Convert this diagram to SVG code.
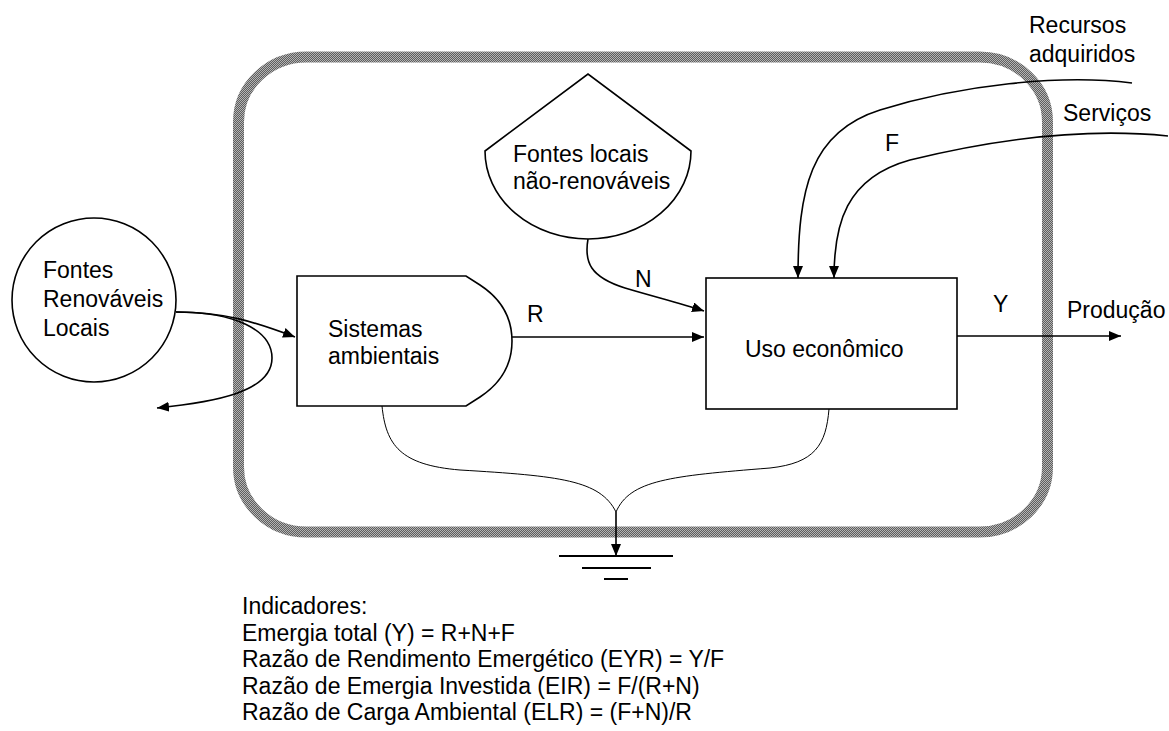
<svg xmlns="http://www.w3.org/2000/svg" width="1169" height="731" viewBox="0 0 1169 731">
  <defs>
    <!-- dithered grey fill for the system boundary -->
    <pattern id="dither" width="2" height="2" patternUnits="userSpaceOnUse">
      <rect width="2" height="2" fill="#5e5e5e"/>
      <rect x="0" y="0" width="1" height="1" fill="#b4b4b4"/>
      <rect x="1" y="1" width="1" height="1" fill="#b4b4b4"/>
    </pattern>
    <marker id="arrow" viewBox="0 0 12 10" refX="12" refY="5" markerWidth="12" markerHeight="10" markerUnits="userSpaceOnUse" orient="auto">
      <path d="M0,0 L12,5 L0,10 Z" fill="#000"/>
    </marker>
  </defs>
  <style>
    text { font-family: "Liberation Sans", Arial, sans-serif; font-size: 23px; fill: #000; }
    .shape { fill: #fff; stroke: #000; stroke-width: 1.6; }
    .flow { fill: none; stroke: #000; stroke-width: 1.6; }
    .thin { fill: none; stroke: #000; stroke-width: 1; }
    .ground { stroke: #000; stroke-width: 2; }
  </style>

  <rect width="1169" height="731" fill="#fff"/>

  <!-- system boundary -->
  <g id="boundary">
    <rect x="238.5" y="57" width="809" height="475" rx="68" ry="65" fill="none" stroke="url(#dither)" stroke-width="11"/>
  </g>

  <!-- renewable sources (circle) -->
  <g id="renewable-sources">
    <circle cx="94" cy="300" r="82" class="shape"/>
    <text x="43" y="278">Fontes</text>
    <text x="43" y="307">Renováveis</text>
    <text x="43" y="336">Locais</text>
  </g>

  <!-- environmental systems (tank/producer shape) -->
  <g id="environmental-systems">
    <path d="M297,276 H466 L480,285 Q512,306 512,341 Q512,376 480,397 L466,406 H297 Z" class="shape" stroke-width="2.6"/>
    <text x="328" y="337">Sistemas</text>
    <text x="328" y="364">ambientais</text>
  </g>

  <!-- non-renewable local sources -->
  <g id="nonrenewable-sources">
    <path d="M485,151 L588,74 L691,151 A103,88 0 0 1 485,151 Z" class="shape"/>
    <text x="513" y="162">Fontes locais</text>
    <text x="513" y="189">não-renováveis</text>
  </g>

  <!-- economic use -->
  <g id="economic-use">
    <rect x="706" y="278" width="251" height="131" class="shape"/>
    <text x="745" y="357">Uso econômico</text>
  </g>

  <!-- heat sink -->
  <g id="heat-sink">
    <line x1="559" y1="556" x2="673" y2="556" class="ground"/>
    <line x1="582" y1="568" x2="651" y2="568" class="ground"/>
    <line x1="604" y1="579" x2="628" y2="579" class="ground"/>
  </g>

  <!-- flows -->
  <g id="connectors">
    <path d="M176,312 C225,312 255,322 295,337" class="flow" marker-end="url(#arrow)"/>
    <path d="M176,312 C235,312 272,330 272,358 C272,392 215,402 157,408" class="flow" marker-end="url(#arrow)"/>
    <path d="M512,337 H704" class="flow" marker-end="url(#arrow)"/>
    <path d="M588,239 C584,262 590,277 625,288 C655,297 680,303 704,311" class="flow" marker-end="url(#arrow)"/>
    <path d="M1132,83 C1060,74 960,85 880,110 C810,132 798,190 798,278" class="flow" marker-end="url(#arrow)"/>
    <path d="M1168,136 C1090,128 1000,138 910,160 C845,178 834,225 834,278" class="flow" marker-end="url(#arrow)"/>
    <path d="M957,336 H1121" class="flow" marker-end="url(#arrow)"/>
    <path d="M382,406 C386,445 400,465 460,470 C560,476 600,480 616,512" class="thin"/>
    <path d="M829,409 C826,445 815,463 770,468 C670,476 630,480 616,512" class="thin"/>
    <path d="M616,512 V556" class="flow" marker-end="url(#arrow)"/>
  </g>

  <!-- flow labels -->
  <g id="labels">
    <text x="527" y="322">R</text>
    <text x="635" y="287">N</text>
    <text x="885" y="151">F</text>
    <text x="993" y="312">Y</text>
    <text x="1067" y="318">Produção</text>
    <text x="1029" y="33">Recursos</text>
    <text x="1029" y="62">adquiridos</text>
    <text x="1063" y="121">Serviços</text>
  </g>

  <!-- indicators -->
  <g id="indicators">
    <text x="242" y="614">Indicadores:</text>
    <text x="242" y="640.5">Emergia total (Y) = R+N+F</text>
    <text x="242" y="667">Razão de Rendimento Emergético (EYR) = Y/F</text>
    <text x="242" y="693.5">Razão de Emergia Investida (EIR) = F/(R+N)</text>
    <text x="242" y="720">Razão de Carga Ambiental (ELR) = (F+N)/R</text>
  </g>
</svg>
